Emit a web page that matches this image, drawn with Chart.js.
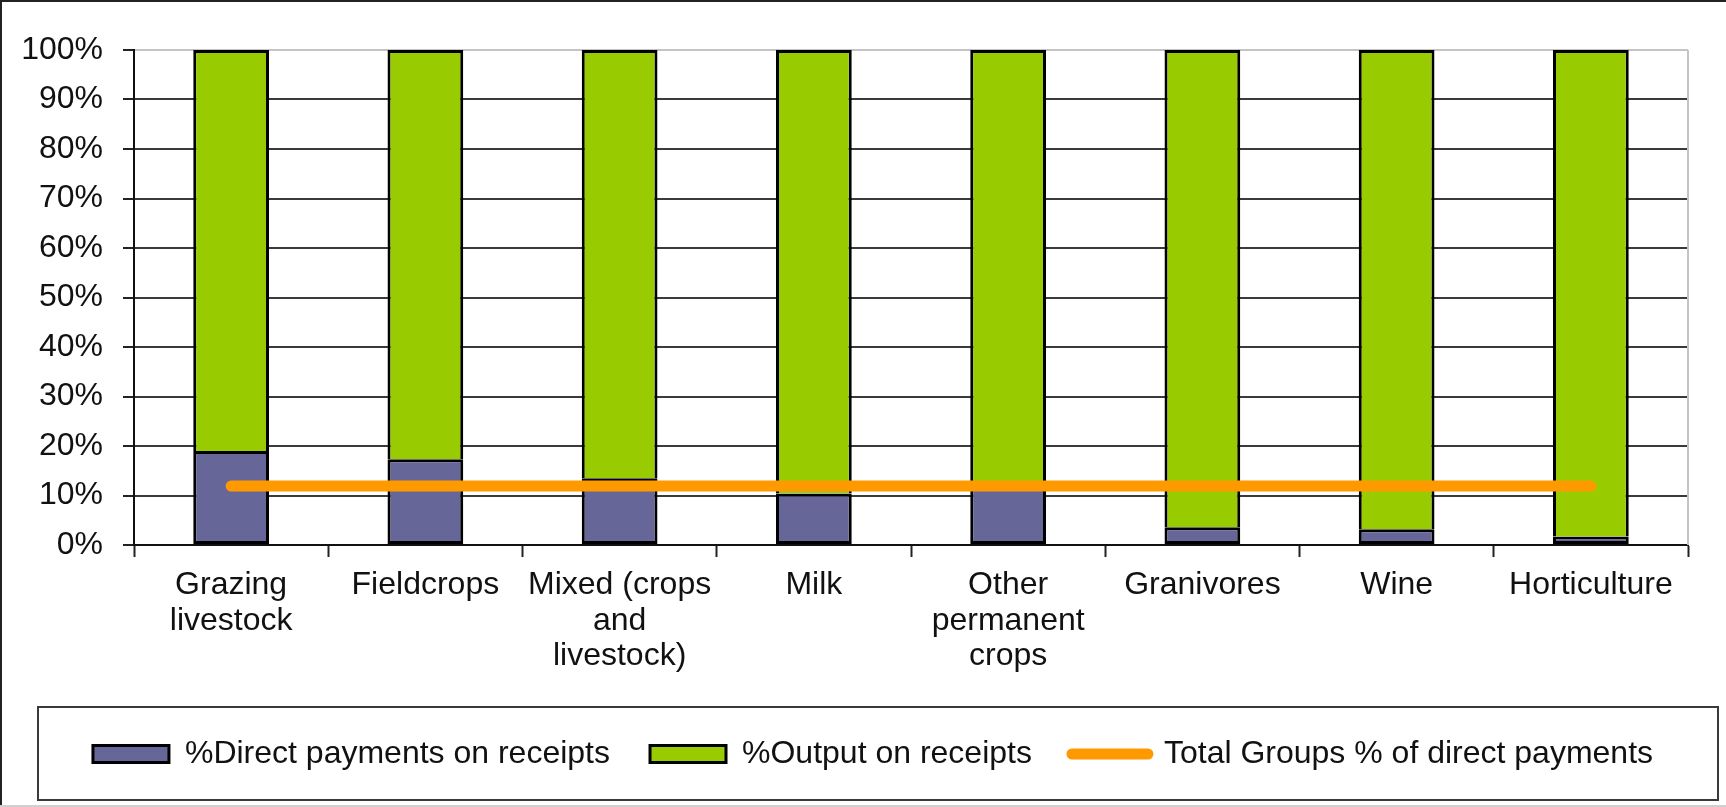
<!DOCTYPE html>
<html>
<head>
<meta charset="utf-8">
<script src="https://cdn.jsdelivr.net/npm/chart.js@4/dist/chart.umd.min.js"></script>
<style>
  html, body { margin: 0; padding: 0; background: #fff; }
  #wrap { width: 1726px; height: 807px; position: relative; }
  canvas { display: block; }
</style>
</head>
<body>
<div id="wrap"><canvas id="c" width="1726" height="807"></canvas></div>
<script>
// ---- data ----
const categories = [
  ["Grazing", "livestock"],
  ["Fieldcrops"],
  ["Mixed (crops", "and", "livestock)"],
  ["Milk"],
  ["Other", "permanent", "crops"],
  ["Granivores"],
  ["Wine"],
  ["Horticulture"]
];
const directPayments = [19.0, 17.3, 13.5, 10.4, 12.0, 3.6, 3.2, 1.7];
const outputShare = [81.0, 82.7, 86.5, 89.6, 88.0, 96.4, 96.8, 98.3];
const totalGroups = [11.9, 11.9, 11.9, 11.9, 11.9, 11.9, 11.9, 11.9];
const yTicks = [0, 10, 20, 30, 40, 50, 60, 70, 80, 90, 100];
const seriesNames = ["%Direct payments on receipts", "%Output on receipts", "Total Groups % of direct payments"];

const FONT = "'Liberation Sans', Arial, sans-serif";

const framePlugin = {
  id: 'frame',
  beforeDatasetsDraw(chart) {
    const { ctx, chartArea } = chart;
    ctx.save();
    ctx.strokeStyle = '#c4c4c4';
    ctx.lineWidth = 2;
    ctx.beginPath();
    ctx.moveTo(chartArea.right, chartArea.top);
    ctx.lineTo(chartArea.right, chartArea.bottom);
    ctx.stroke();
    ctx.restore();
  },
  afterDraw(chart) {
    const { ctx, width, height } = chart;
    const lg = chart.legend;
    ctx.save();
    // legend frame
    ctx.strokeStyle = '#3a3a3a';
    ctx.lineWidth = 2;
    ctx.strokeRect(38, lg.top + 9, 1680, 93);
    // outer frame
    ctx.strokeStyle = '#222';
    ctx.lineWidth = 2;
    ctx.beginPath();
    ctx.moveTo(1, height);
    ctx.lineTo(1, 1);
    ctx.lineTo(width, 1);
    ctx.stroke();
    ctx.strokeStyle = '#d0d0d0';
    ctx.beginPath();
    ctx.moveTo(0, height - 1);
    ctx.lineTo(width, height - 1);
    ctx.stroke();
    ctx.restore();
  }
};

new Chart(document.getElementById('c'), {
  data: {
    labels: categories,
    datasets: [
      {
        type: 'line',
        label: seriesNames[2],
        data: totalGroups,
        borderColor: '#FF9900',
        backgroundColor: '#FF9900',
        borderWidth: 11,
        borderCapStyle: 'round',
        pointRadius: 0,
        pointHoverRadius: 0,
        order: 0
      },
      {
        type: 'bar',
        label: seriesNames[0],
        data: directPayments,
        backgroundColor: '#666699',
        borderColor: '#000',
        borderWidth: 3,
        borderSkipped: false,
        barPercentage: 0.39,
        categoryPercentage: 1,
        order: 1
      },
      {
        type: 'bar',
        label: seriesNames[1],
        data: outputShare,
        backgroundColor: '#99CC00',
        borderColor: '#000',
        borderWidth: 3,
        borderSkipped: 'start',
        barPercentage: 0.39,
        categoryPercentage: 1,
        order: 2
      }
    ]
  },
  options: {
    responsive: false,
    animation: false,
    devicePixelRatio: 1,
    layout: { padding: { left: 20, right: 0, top: 50, bottom: 27 } },
    plugins: {
      tooltip: { enabled: false },
      legend: {
        position: 'bottom',
        align: 'center',
        labels: {
          usePointStyle: true,
          pointStyleWidth: 76,
          boxHeight: 17,
          padding: 40,
          color: '#111',
          font: { family: FONT, size: 32 },
          generateLabels(chart) {
            const order = [1, 2, 0];
            return order.map(i => {
              const ds = chart.data.datasets[i];
              const isLine = ds.type === 'line';
              return {
                text: ds.label,
                datasetIndex: i,
                fillStyle: ds.backgroundColor,
                strokeStyle: isLine ? '#FF9900' : '#000',
                lineWidth: isLine ? 11 : 3,
                lineCap: isLine ? 'round' : 'butt',
                pointStyle: isLine ? 'line' : 'rect',
                hidden: false,
                fontColor: '#111'
              };
            });
          }
        }
      }
    },
    scales: {
      x: {
        stacked: true,
        offset: true,
        grid: {
          offset: true,
          drawOnChartArea: false,
          drawTicks: true,
          tickLength: 12,
          tickColor: '#222',
          tickWidth: 2
        },
        border: { display: true, color: '#111', width: 2 },
        ticks: {
          autoSkip: false,
          maxRotation: 0,
          minRotation: 0,
          padding: 11,
          color: '#111',
          font: { family: FONT, size: 32, lineHeight: 1.1 }
        },
        afterFit(scale) { scale.height = 153; }
      },
      y: {
        stacked: true,
        min: 0,
        max: 100,
        afterBuildTicks(scale) { scale.ticks = yTicks.map(v => ({ value: v })); },
        grid: {
          color: ctx => (ctx.tick && ctx.tick.value === 100) ? '#c4c4c4' : '#3a3a3a',
          lineWidth: 2,
          tickLength: 11,
          tickColor: '#222',
          tickWidth: 2
        },
        border: { display: true, color: '#111', width: 2 },
        ticks: {
          padding: 20,
          color: '#111',
          font: { family: FONT, size: 32 },
          callback: v => v + '%'
        },
        afterFit(scale) { scale.width = 114; }
      },
      yRight: {
        type: 'linear',
        position: 'right',
        display: true,
        grid: { drawOnChartArea: false, drawTicks: false },
        border: { display: false },
        ticks: { display: false },
        afterFit(scale) { scale.width = 38; }
      }
    }
  },
  plugins: [framePlugin]
});
</script>
</body>
</html>
